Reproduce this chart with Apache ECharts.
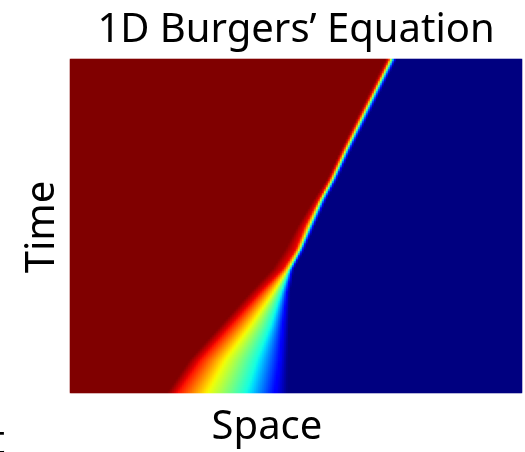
<!DOCTYPE html>
<html>
<head>
<meta charset="utf-8">
<script src="https://cdn.jsdelivr.net/npm/echarts@6/dist/echarts.min.js"></script>
<style>
  html, body { margin: 0; padding: 0; background: #ffffff; }
  #chart { width: 525px; height: 452px; }
</style>
</head>
<body>
<div id="chart"></div>
<script>
// Time levels (fraction of the run) at which the front was traced
const timeLevels = [0, 0.10, 0.20, 0.30, 0.37, 0.43, 0.50, 0.58, 0.64, 0.73, 0.82, 0.91, 1.0];
// Values of u whose positions are traced below
const uLevels = [1.0, 0.9, 0.65, 0.35, 0.12, 0.0];
// Position in space (0..1) where u reaches each level, per time level
const frontU100 = [0.215, 0.265, 0.332, 0.398, 0.447, 0.476, 0.504, 0.540, 0.569, 0.600, 0.633, 0.666, 0.699];
const frontU090 = [0.237, 0.288, 0.354, 0.420, 0.471, 0.500, 0.520, 0.551, 0.575, 0.606, 0.639, 0.673, 0.706];
const frontU065 = [0.303, 0.343, 0.398, 0.449, 0.482, 0.507, 0.529, 0.555, 0.580, 0.611, 0.644, 0.677, 0.710];
const frontU035 = [0.398, 0.420, 0.447, 0.469, 0.487, 0.511, 0.533, 0.560, 0.584, 0.615, 0.648, 0.681, 0.715];
const frontU012 = [0.454, 0.465, 0.471, 0.480, 0.491, 0.515, 0.538, 0.564, 0.588, 0.619, 0.653, 0.686, 0.719];
const frontU000 = [0.482, 0.482, 0.485, 0.487, 0.496, 0.520, 0.542, 0.569, 0.593, 0.624, 0.657, 0.690, 0.723];
const fronts = [frontU100, frontU090, frontU065, frontU035, frontU012, frontU000];

const titleText = '1D Burgers\u2019 Equation';
const xLabel = 'Space';
const yLabel = 'Time';
const edgeText = 't';

// Sampling grid of the field
const nSpace = 226;
const nTime = 167;
const spaceCats = [];
const timeCats = [];
for (let i = 0; i < nSpace; i++) spaceCats.push(((i + 0.5) / nSpace).toFixed(4));
for (let j = 0; j < nTime; j++) timeCats.push(((j + 0.5) / nTime).toFixed(4));

// Front position of level k at time t, between traced time levels
function frontAt(k, t) {
  const arr = fronts[k];
  if (t <= timeLevels[0]) return arr[0];
  for (let m = 0; m < timeLevels.length - 1; m++) {
    const t0 = timeLevels[m], t1 = timeLevels[m + 1];
    if (t <= t1) {
      const f = (t - t0) / (t1 - t0);
      return arr[m] + f * (arr[m + 1] - arr[m]);
    }
  }
  return arr[arr.length - 1];
}

function uAt(s, t) {
  const xs = uLevels.map((_, k) => frontAt(k, t));
  if (s <= xs[0]) return 1;
  if (s >= xs[xs.length - 1]) return 0;
  for (let k = 0; k < xs.length - 1; k++) {
    if (s <= xs[k + 1]) {
      const w = xs[k + 1] - xs[k];
      const f = w > 1e-9 ? (s - xs[k]) / w : 1;
      return uLevels[k] + f * (uLevels[k + 1] - uLevels[k]);
    }
  }
  return 0;
}

const cells = [];
for (let j = 0; j < nTime; j++) {
  const t = (j + 0.5) / nTime;
  for (let i = 0; i < nSpace; i++) {
    const s = (i + 0.5) / nSpace;
    cells.push([i, j, +uAt(s, t).toFixed(4)]);
  }
}

// Jet colour map, sampled from its piecewise-linear channel definitions
const jetSeg = {
  r: [[0, 0], [0.35, 0], [0.66, 1], [0.89, 1], [1, 0.5]],
  g: [[0, 0], [0.125, 0], [0.375, 1], [0.64, 1], [0.91, 0], [1, 0]],
  b: [[0, 0.5], [0.11, 1], [0.34, 1], [0.65, 0], [1, 0]]
};
function channel(seg, x) {
  for (let k = 0; k < seg.length - 1; k++) {
    if (x <= seg[k + 1][0]) {
      const f = (x - seg[k][0]) / (seg[k + 1][0] - seg[k][0]);
      return seg[k][1] + f * (seg[k + 1][1] - seg[k][1]);
    }
  }
  return seg[seg.length - 1][1];
}
const jetColors = [];
const nStops = 65;
for (let k = 0; k < nStops; k++) {
  const x = k / (nStops - 1);
  const r = Math.round(255 * channel(jetSeg.r, x));
  const g = Math.round(255 * channel(jetSeg.g, x));
  const b = Math.round(255 * channel(jetSeg.b, x));
  jetColors.push('rgb(' + r + ',' + g + ',' + b + ')');
}

const font = '"Noto Sans", "Open Sans", sans-serif';
const chart = echarts.init(document.getElementById('chart'), null, { renderer: 'canvas' });
chart.setOption({
  animation: false,
  backgroundColor: '#ffffff',
  grid: { left: 70, top: 59, width: 452, height: 334 },
  xAxis: {
    type: 'category', data: spaceCats,
    axisLine: { show: false }, axisTick: { show: false }, axisLabel: { show: false }, splitLine: { show: false }
  },
  yAxis: {
    type: 'category', data: timeCats,
    axisLine: { show: false }, axisTick: { show: false }, axisLabel: { show: false }, splitLine: { show: false }
  },
  visualMap: {
    show: false, type: 'continuous', min: 0, max: 1, dimension: 2,
    inRange: { color: jetColors }
  },
  graphic: [
    { type: 'text', x: 296, y: 31,
      style: { text: titleText, x: 0, y: 0, textAlign: 'center', textVerticalAlign: 'middle', font: '40px ' + font, fill: '#000' } },
    { type: 'text', x: 267, y: 428,
      style: { text: xLabel, x: 0, y: 0, textAlign: 'center', textVerticalAlign: 'middle', font: '40px ' + font, fill: '#000' } },
    { type: 'text', x: 43, y: 227, rotation: Math.PI / 2,
      style: { text: yLabel, x: 0, y: 0, textAlign: 'center', textVerticalAlign: 'middle', font: '40px ' + font, fill: '#000' } },
    // right end of a neighbouring label, cut by the left edge
    { type: 'text', x: 5, y: 443,
      style: { text: edgeText, x: 0, y: 0, textAlign: 'right', textVerticalAlign: 'middle', font: '40px ' + font, fill: '#000' } }
  ],
  series: [{
    type: 'heatmap',
    data: cells,
    progressive: 0,
    itemStyle: { borderWidth: 0 },
    emphasis: { disabled: true }
  }]
});
</script>
</body>
</html>
